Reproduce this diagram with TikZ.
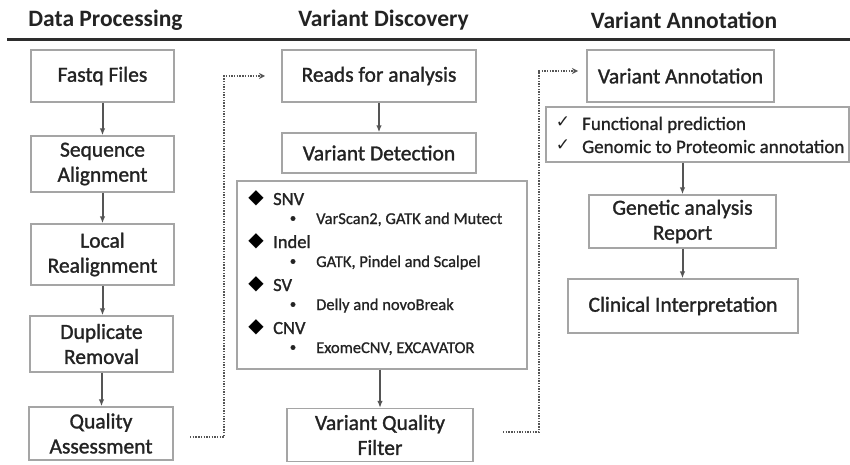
\documentclass[tikz,border=0pt]{standalone}
\usepackage{fontspec}
\setmainfont{Carlito}
\newfontfamily\boxfont{Carlito}[FakeBold=1.3]
\newfontfamily\medfont{Carlito}[FakeBold=0.9]
\newfontfamily\titlefont{Carlito}[BoldFont=* Bold]
\newfontfamily\dejavu{DejaVu Sans}
\usetikzlibrary{arrows.meta}
\definecolor{boxgray}{RGB}{165,165,165}
\definecolor{txt}{RGB}{35,35,35}
\definecolor{arr}{RGB}{85,85,85}
\definecolor{rule}{RGB}{45,45,45}
\begin{document}
\begin{tikzpicture}[x=1pt,y=-1pt,
  box/.style={draw=boxgray, line width=1.3pt, rectangle, inner sep=0pt, align=center, text=txt, font=\boxfont\fontsize{21.5}{25}\selectfont},
  title/.style={text=txt, font=\titlefont\fontsize{23.5}{26}\selectfont\bfseries, inner sep=0pt},
  cat/.style={anchor=base west, inner sep=0pt, text=txt, font=\boxfont\fontsize{18.5}{20}\selectfont},
  tool/.style={anchor=base west, inner sep=0pt, text=txt, font=\medfont\fontsize{16.5}{18}\selectfont},
  dia/.style={inner sep=0pt, text=black, font=\dejavu\fontsize{20}{20}\selectfont},
  bul/.style={circle, fill=txt, draw=txt, inner sep=0pt, minimum size=4.5pt},
  chkm/.style={inner sep=0pt, text=txt, font=\dejavu\fontsize{17}{18}\selectfont},
  flow/.style={draw=arr, line width=2pt, -{Latex[length=7pt,width=5.5pt]}},
  dots/.style={draw=arr, line width=1.5pt, dash pattern=on 1.4pt off 1.3pt, -{Stealth[length=6pt,width=6pt,open]}}
]
\useasboundingbox (0,0) rectangle (850,465);
\fill[white] (0,0) rectangle (850,465);

% titles and rule
\node[title] (t1) at (105.5,20) {Data Processing};
\node[title] (t2) at (383.5,20) {Variant Discovery};
\node[title] (t3) at (684,20) {Variant Annotation};
\coordinate (rl) at (7,40);
\coordinate (rr) at (850,40);
\draw[rule, line width=3pt] (rl) -- (rr);

% left column
\node[box, minimum width=143pt, minimum height=52pt] (fq) at (102.5,76) {Fastq Files};
\node[box, minimum width=143pt, minimum height=56pt] (sa) at (102.5,164) {Sequence\\Alignment};
\node[box, minimum width=143pt, minimum height=61pt] (lr) at (102.5,254.5) {Local\\Realignment};
\node[box, minimum width=143pt, minimum height=56pt] (dr) at (101.5,344) {Duplicate\\Removal};
\node[box, minimum width=144pt, minimum height=53pt] (qa) at (101,433.5) {Quality\\Assessment};

\draw[flow] (fq.south) -- (fq.south |- sa.north);
\draw[flow] (sa.south) -- (sa.south |- lr.north);
\draw[flow] (lr.south) -- (lr.south |- dr.north);
\draw[flow] (dr.south) -- (dr.south |- qa.north);

% middle column
\node[box, minimum width=194pt, minimum height=52pt] (rf) at (379,76) {Reads for analysis};
\node[box, minimum width=194pt, minimum height=40pt] (vd) at (379,153) {Variant Detection};
\node[box, minimum width=290pt, minimum height=188pt] (big) at (382,275) {};
\node[box, minimum width=186pt, minimum height=53pt] (vq) at (380,435) {Variant Quality\\Filter};

\draw[flow] (rf.south) -- (rf.south |- vd.north);
\draw[flow] (vq.north |- big.south) -- (vq.north);

\node[dia] (d1) at (256,198) {◆};
\node[cat] (c1) at (273,205) {SNV};
\node[bul] (bA) at (293,218.5) {};
\node[tool] (l1) at (316,224) {VarScan2, GATK and Mutect};
\node[dia] (d2) at (256,241) {◆};
\node[cat] (c2) at (273,248) {Indel};
\node[bul] (bB) at (293,261.5) {};
\node[tool] (l2) at (316,267) {GATK, Pindel and Scalpel};
\node[dia] (d3) at (256,284) {◆};
\node[cat] (c3) at (273,291) {SV};
\node[bul] (bC) at (293,304.5) {};
\node[tool] (l3) at (316,310) {Delly and novoBreak};
\node[dia] (d4) at (256,327) {◆};
\node[cat] (c4) at (273,334) {CNV};
\node[bul] (bD) at (293,347.5) {};
\node[tool] (l4) at (316,353) {ExomeCNV, EXCAVATOR};

% right column
\node[box, minimum width=187pt, minimum height=52pt] (va) at (680.5,76) {Variant Annotation};
\node[box, minimum width=303pt, minimum height=55pt] (chk) at (697.5,134.5) {};
\node[chkm] (k1) at (563,122) {✓};
\node[chkm] (k2) at (563,145) {✓};
\node[tool, font=\medfont\fontsize{19}{20}\selectfont] (f1) at (582,130) {Functional prediction};
\node[tool, font=\medfont\fontsize{19}{20}\selectfont] (f2) at (582,153) {Genomic to Proteomic annotation};
\node[box, minimum width=187pt, minimum height=53pt] (ga) at (682.5,221.5) {Genetic analysis\\Report};
\node[box, minimum width=230pt, minimum height=54pt] (ci) at (683,306) {Clinical Interpretation};

\draw[flow] (ga.north |- chk.south) -- (ga.north);
\draw[flow] (ga.south) -- (ga.south |- ci.north);

% dotted connectors
\coordinate (p1s) at (190,437);
\coordinate (p1m) at (224,76);
\coordinate (p1e) at (265,76);
\draw[dots] (p1s) -| (p1m) -- (p1e);
\coordinate (p2s) at (503,432);
\coordinate (p2m) at (539,71);
\coordinate (p2e) at (578,71);
\draw[dots] (p2s) -| (p2m) -- (p2e);
\end{tikzpicture}
\end{document}
